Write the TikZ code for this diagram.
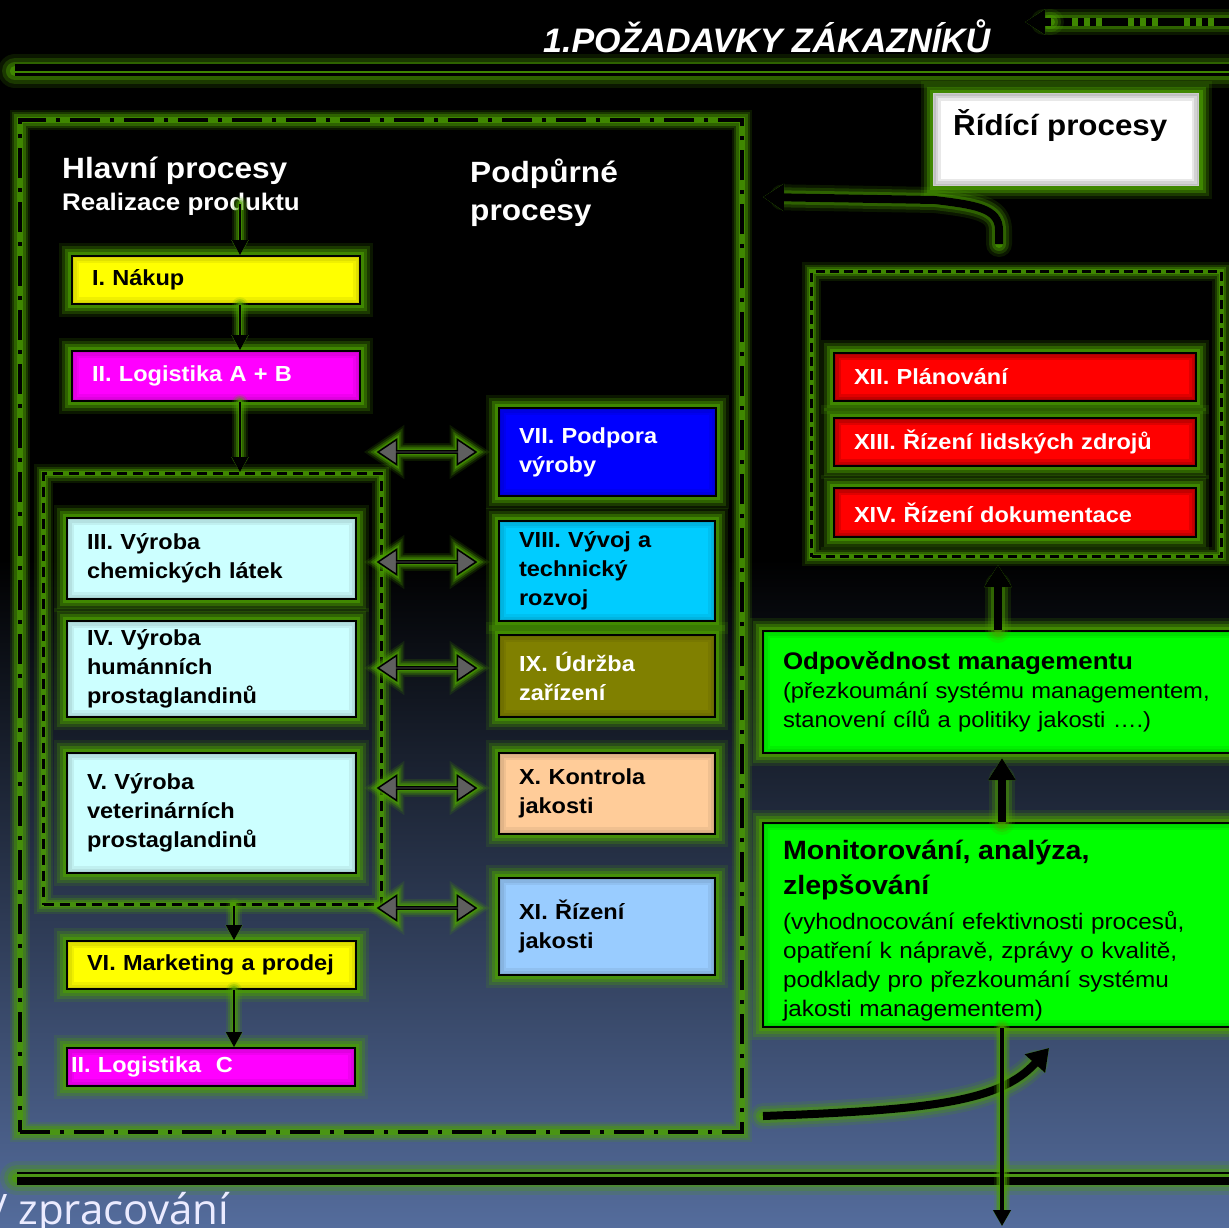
\documentclass[tikz,border=0pt]{standalone}
\usepackage{fontspec}
\setmainfont{Liberation Sans}[FakeStretch=1.08]
\newfontfamily\titlefont{Liberation Sans}
\newfontfamily\slidefont{Open Sans}
\usetikzlibrary{arrows.meta,shapes.arrows}

\definecolor{glowc}{RGB}{75,160,0}
\definecolor{bgblue}{RGB}{84,108,156}
\definecolor{boxyellow}{RGB}{255,255,0}
\definecolor{boxmagenta}{RGB}{255,0,255}
\definecolor{boxpale}{RGB}{204,255,255}
\definecolor{boxblue}{RGB}{0,0,255}
\definecolor{boxsky}{RGB}{0,204,255}
\definecolor{boxolive}{RGB}{128,128,0}
\definecolor{boxpeach}{RGB}{255,204,153}
\definecolor{boxlight}{RGB}{153,204,255}
\definecolor{boxred}{RGB}{255,0,0}
\definecolor{boxgreen}{RGB}{0,255,0}
\definecolor{arrgray}{RGB}{95,95,95}

\tikzset{
  glow/.style={preaction={draw=glowc, solid, line cap=round, line width=#1*1.3, opacity=.15},
    preaction={draw=glowc, solid, line cap=round, line width=#1, opacity=.25},
    preaction={draw=glowc, solid, line cap=round, line width=#1*0.7, opacity=.4},
    preaction={draw=glowc, solid, line cap=round, line width=#1*0.4, opacity=.6}},
  glow/.default=20pt,
  vignette/.style={path picture={
    \draw[black, opacity=#1, line width=14pt] (path picture bounding box.south west) rectangle (path picture bounding box.north east);
    \draw[black, opacity=#1, line width=9pt] (path picture bounding box.south west) rectangle (path picture bounding box.north east);
    \draw[black, opacity=#1, line width=4pt] (path picture bounding box.south west) rectangle (path picture bounding box.north east);}},
  vignette/.default=.06,
  procbox/.style n args={3}{draw=black, line width=2pt, anchor=north west,
    minimum width=#1pt, minimum height=#2pt, text width=#3pt,
    inner xsep=20pt, inner ysep=0pt, align=left, glow, vignette,
    font=\bfseries\fontsize{21.8}{29}\selectfont},
  mainframe/.style={draw=black, line width=4pt, dash pattern=on 30pt off 10pt on 4pt off 10pt,
    anchor=north west, inner sep=0pt, glow=16pt},
  groupframe/.style={draw=black, line width=3pt, dash pattern=on 10pt off 6pt,
    anchor=north west, inner sep=0pt, glow=14pt},
  headtext/.style={text=white, inner sep=0pt, align=left, font=\bfseries\fontsize{29.3}{38}\selectfont},
  subtext/.style={text=white, inner sep=0pt, font=\bfseries\fontsize{24}{30}\selectfont},
  titletext/.style={text=white, inner sep=0pt, font=\titlefont\bfseries\itshape\fontsize{34}{40}\selectfont},
  flowarrow/.style={draw=black, line width=1.8pt, -{Triangle[length=15pt, width=16pt]}, glow=12pt},
  fatarrow/.style={draw=black, line width=8pt, -{Triangle[length=22pt, width=26pt]}, glow=20pt},
  bendarrow/.style={draw=black, line width=8pt, -{Triangle[length=21pt, width=26pt]}, glow=20pt},
  outarrow/.style={draw=black, line width=3.5pt, -{Triangle[length=16pt, width=17pt]}, glow=13pt},
  reqline/.style={draw=black, line width=8pt, dash pattern=on 26pt off 6pt on 6pt off 6pt on 6pt off 6pt, glow=20pt},
  reqhead/.style={draw=black, line width=8pt, -{Triangle[length=20pt, width=24pt]}, glow=20pt},
  linkarrow/.style={double arrow, draw=black, line width=1.5pt, fill=arrgray,
    minimum height=98pt, minimum width=25pt, double arrow head extend=8pt,
    double arrow tip angle=68, inner sep=0pt, glow=12pt},
}

\begin{document}
\begin{tikzpicture}[x=1pt, y=-1pt]
\useasboundingbox (0,0) rectangle (1229,1227);
\clip (0,0) rectangle (1229,1227);
% background
\fill[black] (0,0) rectangle (1229,560);
\shade[top color=black, bottom color=bgblue] (0,559) rectangle (1229,1227);

% customer requirements
\coordinate (reqA) at (1240,22);
\coordinate (reqB) at (1025,22);
\draw[reqline] (reqA) -- ([xshift=24pt]reqB);
\draw[reqhead] ([xshift=26pt]reqB) -- (reqB);
\node[titletext, anchor=base west] (title) at (543,52) {1.POŽADAVKY ZÁKAZNÍKŮ};
\path[glow=26pt] (15,71) -- (1245,71);
\draw[line width=7pt] (15,67.5) -- (1245,67.5);
\draw[line width=2.8pt] (15,74.6) -- (1245,74.6);

% frames
\node[mainframe, minimum width=722pt, minimum height=1012pt] (main) at (18,118) {};
\node[groupframe, minimum width=338pt, minimum height=431pt] (prod) at (42,472) {};
\node[groupframe, dash pattern=on 9pt off 5pt, minimum width=410pt, minimum height=285pt] (ctrl) at (810,270) {};

% headings
\node[headtext, anchor=base west] (hlavni) at (62,178) {Hlavní procesy};
\node[subtext, anchor=base west] (realiz) at (62,210) {Realizace produktu};
\node[headtext, anchor=base west] (podp) at (470,220) {Podpůrné\\procesy};

% main processes
\node[procbox={288}{48}{248}, fill=boxyellow] (nakup) at (71,255) {I. Nákup};
\node[procbox={288}{50}{248}, fill=boxmagenta, text=white] (logab) at (71,350) {II. Logistika A + B};
\node[procbox={289}{81}{249}, fill=boxpale] (chem) at (66,517) {III. Výroba\\chemických látek};
\node[procbox={289}{96}{249}, fill=boxpale] (human) at (66,620) {IV. Výroba\\humánních\\prostaglandinů};
\node[procbox={289}{120}{249}, fill=boxpale] (vet) at (66,752) {V. Výroba\\veterinárních\\prostaglandinů};
\node[procbox={289}{48}{249}, fill=boxyellow] (mkt) at (66,940) {\mbox{VI. Marketing a prodej}};
\node[procbox={288}{38}{280}, fill=boxmagenta, text=white, inner xsep=4pt] (logc) at (66,1047) {II. Logistika~ C};

% support processes
\node[procbox={217}{88}{177}, fill=boxblue, text=white] (podpora) at (498,407) {VII. Podpora\\výroby};
\node[procbox={216}{100}{176}, fill=boxsky] (vyvoj) at (498,520) {VIII. Vývoj a\\technický\\rozvoj};
\node[procbox={216}{82}{176}, fill=boxolive, text=white] (udrzba) at (498,634) {IX. Údržba\\zařízení};
\node[procbox={216}{81}{176}, fill=boxpeach] (kontrola) at (498,752) {X. Kontrola\\jakosti};
\node[procbox={216}{97}{176}, fill=boxlight] (rizeni) at (498,877) {XI. Řízení\\jakosti};

\foreach \y [count=\i] in {452,562,668,788,908}
  \node[linkarrow] (link\i) at (427,\y) {};

% control processes
\node[procbox={265}{92}{225}, fill=white, draw=gray!40, line width=1pt, vignette=.09] (ridici) at (933,93) {};
\node[headtext, text=black, font=\bfseries\fontsize{29}{35}\selectfont, anchor=base west] (ridiciT) at (953,135) {Řídící procesy};
\node[procbox={362}{48}{322}, fill=boxred, text=white, vignette=.12] (plan) at (833,352) {XII. Plánování};
\node[procbox={362}{48}{322}, fill=boxred, text=white, vignette=.12] (lidske) at (833,417) {XIII. Řízení lidských zdrojů};
\node[procbox={362}{49}{322}, fill=boxred, text=white, vignette=.12] (dokum) at (833,487) {XIV. Řízení dokumentace};

\node[procbox={490}{122}{450}, fill=boxgreen, font=\fontsize{22}{29}\selectfont] (odpov) at (762,630)
  {{\bfseries\fontsize{24}{29}\selectfont Odpovědnost managementu}\\(přezkoumání systému managementem,\\stanovení cílů a politiky jakosti ….)};
\node[procbox={490}{204}{450}, fill=boxgreen, font=\fontsize{22.5}{29}\selectfont] (monit) at (762,822)
  {{\bfseries\fontsize{26.5}{35}\selectfont\rule{0pt}{31pt}Monitorování, analýza,\\[6pt]zlepšování}\\[6pt](vyhodnocování efektivnosti procesů,\\opatření k nápravě, zprávy o kvalitě,\\podklady pro přezkoumání systému\\jakosti managementem)};

% flow arrows
\coordinate (spineA) at (240,204);
\coordinate (spineB) at (234,0);
\draw[flowarrow] (spineA) -- (spineA |- nakup.north);
\draw[flowarrow] (nakup.south -| spineA) -- (logab.north -| spineA);
\draw[flowarrow] (logab.south -| spineA) -- (prod.north -| spineA);
\draw[flowarrow] (prod.south -| spineB) -- (mkt.north -| spineB);
\draw[flowarrow] (mkt.south -| spineB) -- (logc.north -| spineB);

\coordinate (upA) at (998,0);
\coordinate (upB) at (1002,0);
\draw[fatarrow, shorten >=7pt] (odpov.north -| upA) -- (ctrl.south -| upA);
\draw[fatarrow, shorten >=4pt] (monit.north -| upB) -- (odpov.south -| upB);

\coordinate (fbA) at (999,244);
\coordinate (fbB) at (763,197);
\draw[bendarrow] (fbA) -- (999,230) .. controls +(0,-22) and +(40,5) .. (935,200) -- (fbB);
\coordinate (impA) at (763,1116);
\coordinate (impB) at (1049,1048);
\draw[bendarrow] (impA) .. controls (930,1110) and (1000,1102) .. (impB);

% bottom rule
\path[glow=26pt] (17,1178) -- (1245,1178);
\draw[line width=2.5pt] (17,1173) -- (1245,1173);
\draw[line width=8pt] (17,1181) -- (1245,1181);
\coordinate (exitC) at (1002,1226);
\draw[outarrow] (monit.south -| upB) -- (exitC);

\node[anchor=base west, inner sep=0pt, text=white!92!blue, font=\slidefont\fontsize{42}{42}\selectfont] (zprac) at (-8,1224) {/ zpracování};
\end{tikzpicture}
\end{document}
